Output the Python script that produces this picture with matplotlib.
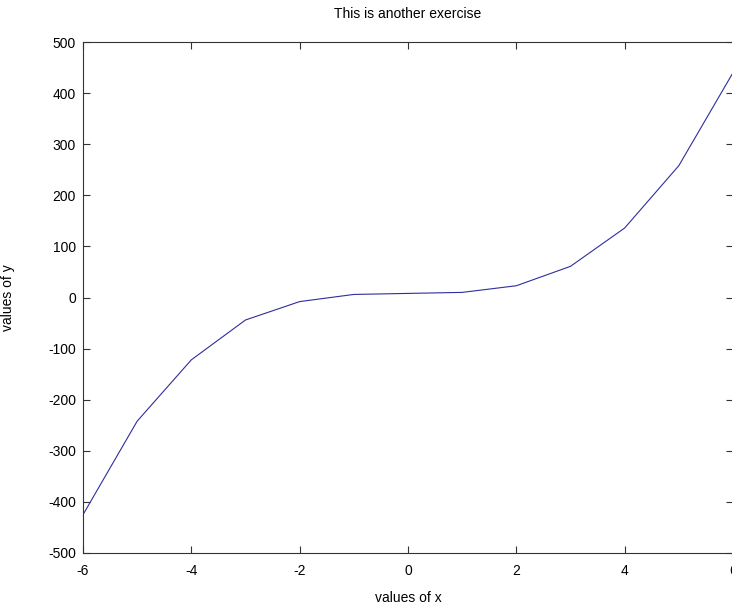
import numpy as np
import matplotlib
matplotlib.use("Agg")
import matplotlib.pyplot as plt

# values
x_vals = [-6, -5, -4, -3, -2, -1, 0, 1, 2, 3, 4, 5, 6]
y_vals = [-425, -242, -122, -44, -8, 6, 8, 10, 23, 61, 136, 258, 440]

x_ticks = [-6, -4, -2, 0, 2, 4, 6]
y_ticks = [-500, -400, -300, -200, -100, 0, 100, 200, 300, 400, 500]

plt.rcParams["font.family"] = ["Liberation Sans", "DejaVu Sans"]

W, H = 732, 607
fig = plt.figure(figsize=(W / 100, H / 100), dpi=100)
left, right, top, bottom = 83, 733, 42, 553
ax = fig.add_axes([left / W, 1 - bottom / H, (right - left) / W, (bottom - top) / H])

ax.plot(x_vals, y_vals, color="#2e2e9e", linewidth=0.8)

ax.set_xlim(-6, 6)
ax.set_ylim(-500, 500)
ax.set_xticks(x_ticks)
ax.set_yticks(y_ticks)
ax.set_xticklabels([str(t) for t in x_ticks])
ax.set_yticklabels([str(t) for t in y_ticks])
ax.tick_params(direction="in", length=5, width=0.8, color="#333333",
               top=True, right=True, labelsize=10)
ax.tick_params(axis="x", pad=8)
ax.tick_params(axis="y", pad=5)
for sp in ax.spines.values():
    sp.set_color("#333333")
    sp.set_linewidth(0.8)

ax.set_title("This is another exercise", fontsize=10, pad=17)
ax.set_xlabel("values of x", fontsize=10, labelpad=9)
ax.set_ylabel("values of y", fontsize=10, labelpad=24)

fig.savefig("out.png", dpi=100)
